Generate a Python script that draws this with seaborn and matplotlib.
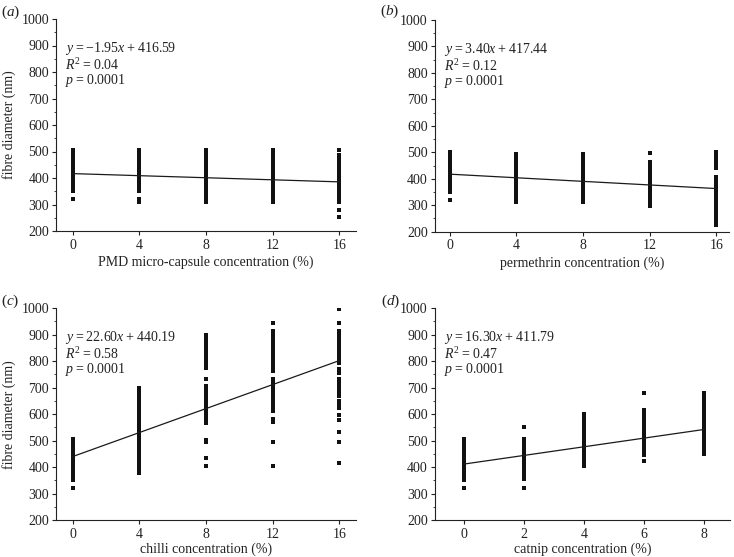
import matplotlib
matplotlib.use('Agg')
import matplotlib.pyplot as plt
from matplotlib.ticker import MultipleLocator
import seaborn as sns
import pandas as pd

# ---- data (fibre diameter in nm per concentration) ----
pmd_conc = [0, 4, 8, 12, 16]
pmd_diam = [
    [320, 350, 362, 374, 386, 398, 410, 422, 434, 446, 458, 470, 482, 494, 505],
    [308, 322, 350, 362, 374, 386, 398, 410, 422, 434, 446, 458, 470, 482, 494, 505],
    [308, 320, 332, 344, 356, 368, 380, 392, 404, 416, 428, 440, 452, 464, 476, 488, 500, 505],
    [308, 320, 332, 344, 356, 368, 380, 392, 404, 416, 428, 440, 452, 464, 476, 488, 500, 505],
    [251, 278, 308, 320, 332, 344, 356, 368, 380, 392, 404, 416, 428, 440, 452, 464, 476, 486, 507],
]

perm_conc = [0, 4, 8, 12, 16]
perm_diam = [
    [320, 350, 362, 374, 386, 398, 410, 422, 434, 446, 458, 470, 482, 494, 502],
    [314, 326, 338, 350, 362, 374, 386, 398, 410, 422, 434, 446, 458, 470, 482, 494],
    [314, 326, 338, 350, 362, 374, 386, 398, 410, 422, 434, 446, 458, 470, 482, 494],
    [296, 308, 320, 332, 344, 356, 368, 380, 392, 404, 416, 428, 440, 452, 462, 497],
    [227, 239, 251, 263, 275, 287, 299, 311, 323, 335, 347, 359, 371, 383, 395, 407,
     441, 453, 465, 477, 489, 501],
]

chilli_conc = [0, 4, 8, 12, 16]
chilli_diam = [
    [322, 350, 362, 374, 386, 398, 410, 422, 434, 446, 458, 470, 482, 494, 505],
    [378, 390, 402, 414, 426, 438, 450, 462, 474, 486, 498, 510, 522, 534, 546, 558,
     570, 582, 594, 606, 618, 630, 642, 654, 666, 678, 690, 698],
    [403, 436, 494, 504, 567, 579, 591, 603, 615, 627, 639, 651, 663, 675, 687, 699,
     707, 731, 773, 785, 797, 809, 821, 833, 845, 857, 869, 881, 893, 900],
    [403, 496, 570, 580, 611, 623, 635, 647, 659, 671, 683, 695, 707, 719, 733, 762,
     774, 786, 798, 810, 822, 834, 846, 858, 870, 882, 894, 906, 915, 942],
    [417, 495, 533, 579, 595, 623, 636, 648, 668, 680, 692, 704, 716, 726, 733, 756,
     771, 793, 805, 817, 829, 841, 853, 865, 877, 889, 901, 915, 942, 995],
]

catnip_conc = [0, 2, 4, 6, 8]
catnip_diam = [
    [322, 350, 362, 374, 386, 398, 410, 422, 434, 446, 458, 470, 482, 494, 505],
    [322, 357, 369, 381, 393, 405, 417, 429, 441, 453, 465, 477, 489, 501, 505, 552],
    [404, 416, 428, 440, 452, 464, 476, 488, 500, 512, 524, 536, 548, 560, 572, 584, 596, 599],
    [423, 445, 457, 469, 481, 493, 505, 517, 529, 541, 553, 565, 577, 589, 601, 614, 678],
    [448, 460, 472, 484, 496, 508, 520, 532, 544, 556, 568, 580, 592, 604, 616, 628,
     640, 652, 668, 680],
]

# fitted lines as drawn (panel b is drawn falling although its label reads 3.40)
fit_slope = [-1.95, -3.40, 22.60, 16.30]
fit_intercept = [416.59, 417.44, 440.19, 411.79]

eq_text = [
    ['$y$\u2009=\u2009\u22121.95$x$\u2009+\u2009416.59', '$R^{2}$\u2009=\u20090.04', '$p$\u2009=\u20090.0001'],
    ['$y$\u2009=\u20093.40$x$\u2009+\u2009417.44', '$R^{2}$\u2009=\u20090.12', '$p$\u2009=\u20090.0001'],
    ['$y$\u2009=\u200922.60$x$\u2009+\u2009440.19', '$R^{2}$\u2009=\u20090.58', '$p$\u2009=\u20090.0001'],
    ['$y$\u2009=\u200916.30$x$\u2009+\u2009411.79', '$R^{2}$\u2009=\u20090.47', '$p$\u2009=\u20090.0001'],
]
x_labels = ['PMD micro-capsule concentration (%)', 'permethrin concentration (%)',
            'chilli concentration (%)', 'catnip concentration (%)']
panel_tags = ['($a$)', '($b$)', '($c$)', '($d$)']

sns.set_style('ticks')
plt.rcParams['font.family'] = ['Liberation Serif', 'DejaVu Serif']
plt.rcParams['mathtext.fontset'] = 'custom'
plt.rcParams['mathtext.rm'] = 'Liberation Serif'
plt.rcParams['mathtext.it'] = 'Liberation Serif:italic'
plt.rcParams['font.size'] = 10

ink = '#222222'
W, H = 734, 557
fig = plt.figure(figsize=(W / 100, H / 100), dpi=100)

# axes boxes in pixels: left, right, top, bottom, xlim, tag position, xlabel pad
boxes = [
    (56, 356, 19, 231, (-1, 17), (1, 12), 3),
    (434.7, 728.8, 20, 231.7, (-0.9, 16.75), (380, 11), 3),
    (56, 356, 308, 520.3, (-1, 17), (1, 301), 1),
    (434.7, 730, 308, 520.3, (-0.97, 8.87), (381, 301), 1),
]
concs = [pmd_conc, perm_conc, chilli_conc, catnip_conc]
diams = [pmd_diam, perm_diam, chilli_diam, catnip_diam]

for i in range(4):
    left, right, top, bottom, xlim, tag, xpad = boxes[i]
    ax = fig.add_axes([left / W, 1 - bottom / H, (right - left) / W, (bottom - top) / H])

    rows = []
    for c, vals in zip(concs[i], diams[i]):
        for v in vals:
            rows.append((c, v))
    df = pd.DataFrame(rows, columns=['conc', 'diam'])
    sns.scatterplot(data=df, x='conc', y='diam', marker='s', s=11, color='#111111',
                    linewidth=0, ax=ax, zorder=2)

    x0, x1 = concs[i][0], concs[i][-1]
    sns.lineplot(x=[x0, x1],
                 y=[fit_intercept[i] + fit_slope[i] * x0, fit_intercept[i] + fit_slope[i] * x1],
                 color='#1a1a1a', lw=0.9, ax=ax, zorder=3)

    ax.set_xlim(*xlim)
    ax.set_ylim(200, 1000)
    ax.set_xticks(concs[i])
    ax.yaxis.set_major_locator(MultipleLocator(100))
    ax.yaxis.set_minor_locator(MultipleLocator(50))
    ax.tick_params(axis='both', which='major', direction='out', length=3, width=0.8,
                   colors=ink, labelsize=10, pad=2)
    ax.tick_params(axis='x', which='major', pad=2.5)
    ax.tick_params(axis='y', which='minor', direction='out', length=1.8, width=0.6, colors=ink)
    for side in ['left', 'bottom']:
        ax.spines[side].set_color(ink)
        ax.spines[side].set_linewidth(0.8)
    sns.despine(ax=ax)

    ax.set_xlabel(x_labels[i], fontsize=10, color=ink, labelpad=xpad)
    if i in (0, 2):
        ax.set_ylabel('fibre diameter (nm)', fontsize=10, color=ink, labelpad=4)
    else:
        ax.set_ylabel('')

    for line, yf in zip(eq_text[i], [0.862, 0.784, 0.708]):
        ax.text(0.03, yf, line, transform=ax.transAxes, fontsize=10, color=ink,
                ha='left', va='center')

    fig.text(tag[0] / W, 1 - tag[1] / H, panel_tags[i], fontsize=11, color=ink,
             ha='left', va='center')

fig.savefig('out.png', dpi=100)
